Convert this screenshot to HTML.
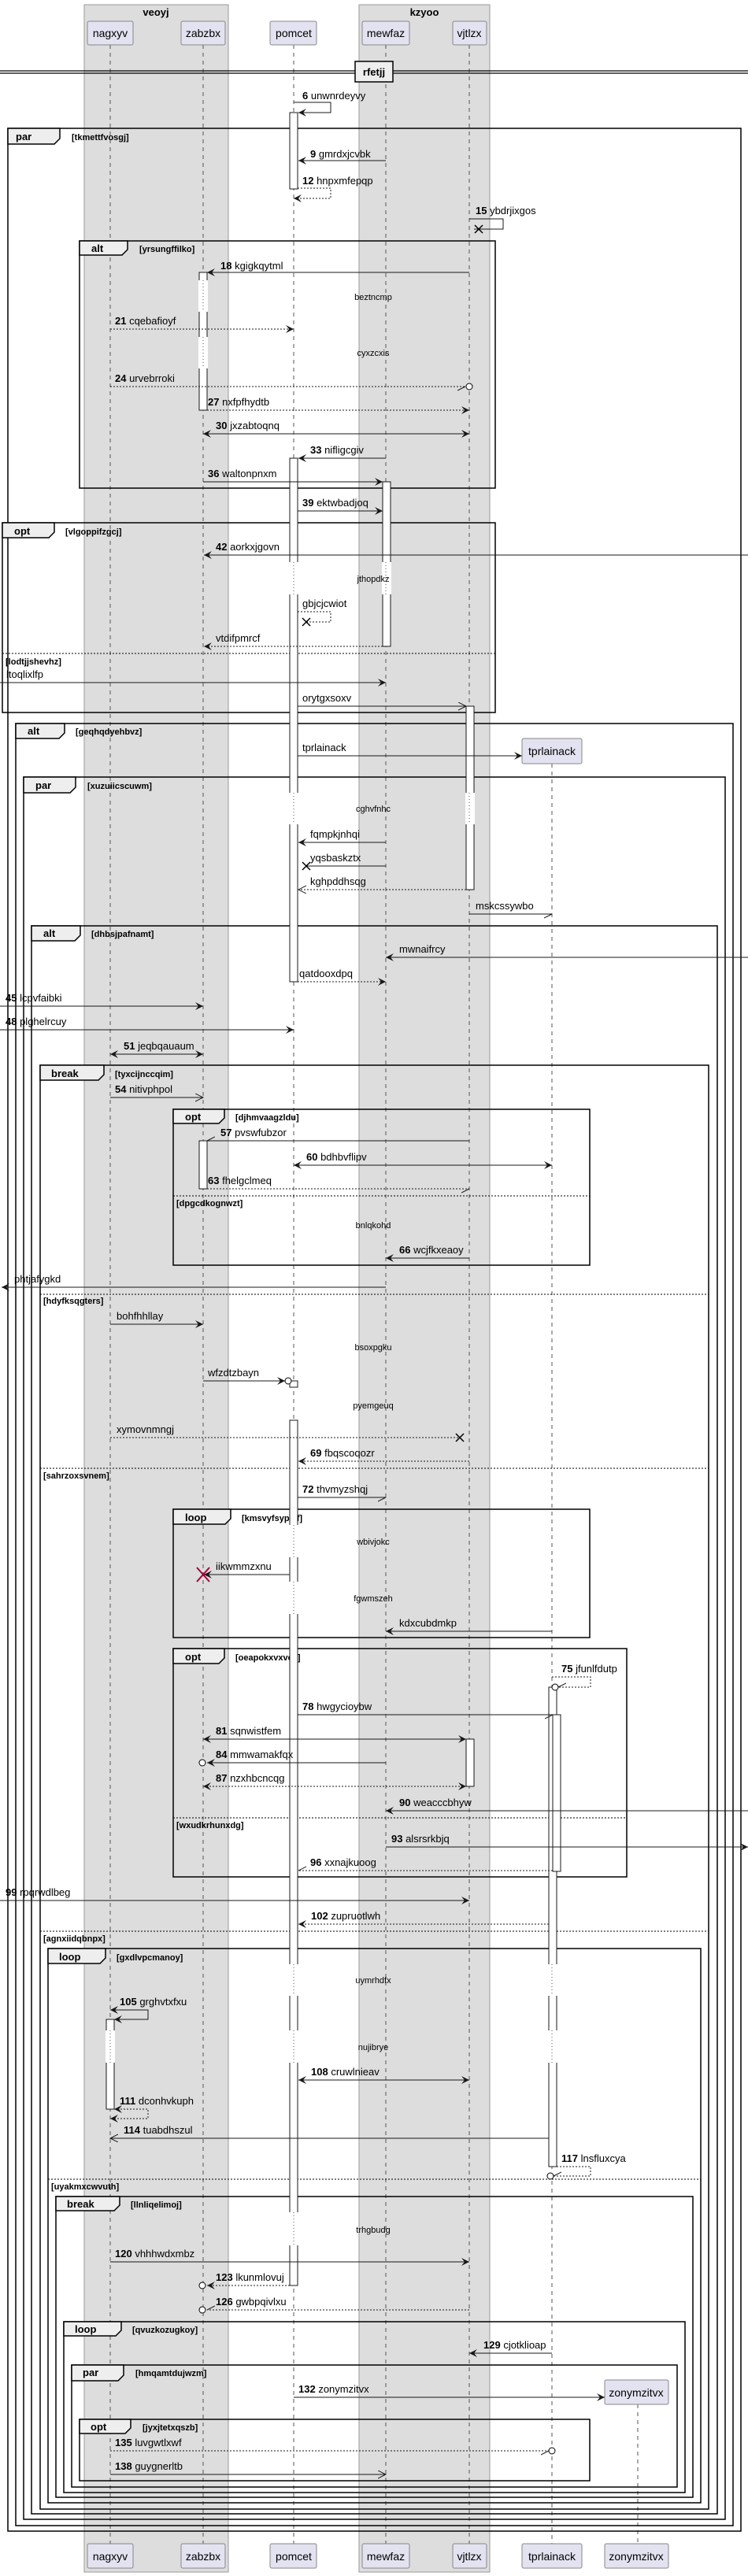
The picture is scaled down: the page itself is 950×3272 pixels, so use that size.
<!DOCTYPE html>
<html><head><meta charset="utf-8"><style>
html,body{margin:0;padding:0;background:#fff;}
svg{display:block;font-family:"Liberation Sans",sans-serif;}
.m{font-size:13px;fill:#000;}
.d{font-size:11px;fill:#000;text-anchor:middle;}
.c{font-size:11px;font-weight:bold;fill:#000;}
.t{font-size:13px;font-weight:bold;fill:#000;}
.p{font-size:14px;fill:#000;text-anchor:middle;}
.ln{stroke:#181818;stroke-width:1;fill:none;}
.ds{stroke:#181818;stroke-width:1;fill:none;stroke-dasharray:2,2;}
.fr{stroke:#000;stroke-width:1.5;fill:none;}
.tab{stroke:#000;stroke-width:1.5;fill:#eee;}
.el{stroke:#000;stroke-width:1;stroke-dasharray:2,2;}
.act{fill:#fff;stroke:#181818;stroke-width:1;}
.ll{stroke:#555;stroke-width:1;stroke-dasharray:5,5;}
.gap{fill:#fff;}
.gl{stroke:#555;stroke-width:1;stroke-dasharray:1,3;}
</style></head><body>
<svg width="950" height="3272" viewBox="0 0 950 3272" xmlns="http://www.w3.org/2000/svg">
<defs>
<marker id="f" markerUnits="userSpaceOnUse" markerWidth="12" markerHeight="10" refX="10" refY="5" orient="auto-start-reverse"><path d="M0,0 L10,5 L0,10 L4,5 Z" fill="#181818"/></marker>
<marker id="o" markerUnits="userSpaceOnUse" markerWidth="12" markerHeight="12" refX="10" refY="5" orient="auto-start-reverse"><path d="M0,0 L10,5 L0,10" fill="none" stroke="#181818"/></marker>
<marker id="h" markerUnits="userSpaceOnUse" markerWidth="12" markerHeight="12" refX="10" refY="5" orient="auto-start-reverse"><path d="M0,10 L10,5" fill="none" stroke="#181818"/></marker>
</defs>

<rect x="107" y="6" width="183" height="3261" fill="#ddd" stroke="#999"/>
<rect x="456" y="6" width="166" height="3261" fill="#ddd" stroke="#999"/>
<text x="198" y="20" class="t" text-anchor="middle">veoyj</text>
<text x="539" y="20" class="t" text-anchor="middle">kzyoo</text>

<line class="ll" x1="140" y1="57" x2="140" y2="3231"/>
<line class="ll" x1="258" y1="57" x2="258" y2="3231"/>
<line class="ll" x1="373" y1="57" x2="373" y2="3231"/>
<line class="ll" x1="490" y1="57" x2="490" y2="3231"/>
<line class="ll" x1="596" y1="57" x2="596" y2="3231"/>
<line class="ll" x1="701" y1="970" x2="701" y2="3231"/>
<line class="ll" x1="810" y1="3054" x2="810" y2="3231"/>

<g fill="#e2e2f0" stroke="#888">
<rect x="111" y="27" width="58" height="30" rx="2"/>
<rect x="230" y="27" width="56" height="30" rx="2"/>
<rect x="343" y="27" width="59" height="30" rx="2"/>
<rect x="460" y="27" width="60" height="30" rx="2"/>
<rect x="575" y="27" width="43" height="30" rx="2"/>
<rect x="663" y="938" width="76" height="32" rx="2"/>
<rect x="768" y="3023" width="81" height="31" rx="2"/>
<rect x="111" y="3231" width="58" height="31" rx="2"/>
<rect x="230" y="3231" width="56" height="31" rx="2"/>
<rect x="343" y="3231" width="59" height="31" rx="2"/>
<rect x="460" y="3231" width="60" height="31" rx="2"/>
<rect x="575" y="3231" width="43" height="31" rx="2"/>
<rect x="663" y="3231" width="76" height="31" rx="2"/>
<rect x="768" y="3231" width="81" height="31" rx="2"/>
</g>
<text class="p" x="140" y="47">nagxyv</text>
<text class="p" x="258" y="47">zabzbx</text>
<text class="p" x="373" y="47">pomcet</text>
<text class="p" x="490" y="47">mewfaz</text>
<text class="p" x="596" y="47">vjtlzx</text>
<text class="p" x="701" y="959">tprlainack</text>
<text class="p" x="808" y="3044">zonymzitvx</text>
<text class="p" x="140" y="3252">nagxyv</text>
<text class="p" x="258" y="3252">zabzbx</text>
<text class="p" x="373" y="3252">pomcet</text>
<text class="p" x="490" y="3252">mewfaz</text>
<text class="p" x="596" y="3252">vjtlzx</text>
<text class="p" x="701" y="3252">tprlainack</text>
<text class="p" x="808" y="3252">zonymzitvx</text>

<line x1="0" y1="90" x2="950" y2="90" stroke="#000" stroke-width="1.2"/>
<line x1="0" y1="93" x2="950" y2="93" stroke="#000" stroke-width="1.2"/>
<rect x="451" y="78" width="48" height="26" fill="#eee" stroke="#000" stroke-width="1.5"/>
<text class="t" x="475" y="96" text-anchor="middle">rfetjj</text>

<g>
<rect class="fr" x="10" y="163" width="931" height="3052"/>
<path class="tab" d="M10,163 L76,163 L76,176 L69,183 L10,183 Z"/><text class="t" x="20" y="178">par</text><text class="c" x="91" y="178">[tkmettfvosgj]</text>
<rect class="fr" x="101" y="306" width="528" height="314"/>
<path class="tab" d="M101,306 L162,306 L162,317 L155,324 L101,324 Z"/><text class="t" x="116" y="320">alt</text><text class="c" x="177" y="320">[yrsungffilko]</text>
<rect class="fr" x="3" y="664" width="626" height="241"/>
<path class="tab" d="M3,664 L69,664 L69,676 L62,683 L3,683 Z"/><text class="t" x="18" y="679">opt</text><text class="c" x="83" y="679">[vlgoppifzgcj]</text>
<line class="el" x1="3" y1="830" x2="629" y2="830"/><text class="c" x="7" y="844">[lodtjjshevhz]</text>
<rect class="fr" x="20" y="919" width="911" height="2289"/>
<path class="tab" d="M20,919 L82,919 L82,931 L75,938 L20,938 Z"/><text class="t" x="35" y="933">alt</text><text class="c" x="96" y="933">[geqhqdyehbvz]</text>
<rect class="fr" x="30" y="987" width="891" height="2213"/>
<path class="tab" d="M30,987 L96,987 L96,1000 L89,1007 L30,1007 Z"/><text class="t" x="45" y="1002">par</text><text class="c" x="111" y="1002">[xuzuiicscuwm]</text>
<rect class="fr" x="40" y="1176" width="871" height="2017"/>
<path class="tab" d="M40,1176 L102,1176 L102,1188 L95,1195 L40,1195 Z"/><text class="t" x="55" y="1190">alt</text><text class="c" x="116" y="1190">[dhbsjpafnamt]</text>
<rect class="fr" x="51" y="1353" width="849" height="1834"/>
<path class="tab" d="M51,1353 L132,1353 L132,1365 L125,1372 L51,1372 Z"/><text class="t" x="65" y="1368">break</text><text class="c" x="146" y="1368">[tyxcijnccqim]</text>
<line class="el" x1="51" y1="1644" x2="900" y2="1644"/><text class="c" x="55" y="1656">[hdyfksqgters]</text>
<line class="el" x1="51" y1="1865" x2="900" y2="1865"/><text class="c" x="55" y="1878">[sahrzoxsvnem]</text>
<line class="el" x1="51" y1="2453" x2="900" y2="2453"/><text class="c" x="55" y="2466">[agnxiidqbnpx]</text>
<rect class="fr" x="220" y="1409" width="529" height="198"/>
<path class="tab" d="M220,1409 L285,1409 L285,1420 L278,1427 L220,1427 Z"/><text class="t" x="235" y="1423">opt</text><text class="c" x="299" y="1423">[djhmvaagzldu]</text>
<line class="el" x1="220" y1="1519" x2="749" y2="1519"/><text class="c" x="224" y="1532">[dpgcdkognwzt]</text>
<rect class="fr" x="220" y="1917" width="529" height="163"/>
<path class="tab" d="M220,1917 L293,1917 L293,1929 L286,1936 L220,1936 Z"/><text class="t" x="235" y="1932">loop</text><text class="c" x="307" y="1932">[kmsvyfsypzff]</text>
<rect class="fr" x="220" y="2094" width="576" height="290"/>
<path class="tab" d="M220,2094 L285,2094 L285,2106 L278,2113 L220,2113 Z"/><text class="t" x="235" y="2109">opt</text><text class="c" x="299" y="2109">[oeapokxvxves]</text>
<line class="el" x1="220" y1="2309" x2="796" y2="2309"/><text class="c" x="224" y="2322">[wxudkrhunxdg]</text>
<rect class="fr" x="61" y="2475" width="829" height="704"/>
<path class="tab" d="M61,2475 L134,2475 L134,2487 L127,2494 L61,2494 Z"/><text class="t" x="75" y="2490">loop</text><text class="c" x="148" y="2490">[gxdlvpcmanoy]</text>
<line class="el" x1="61" y1="2768" x2="890" y2="2768"/><text class="c" x="65" y="2781">[uyakmxcwvuth]</text>
<rect class="fr" x="71" y="2790" width="809" height="382"/>
<path class="tab" d="M71,2790 L152,2790 L152,2801 L145,2808 L71,2808 Z"/><text class="t" x="85" y="2804">break</text><text class="c" x="166" y="2804">[llnliqelimoj]</text>
<rect class="fr" x="81" y="2949" width="789" height="217"/>
<path class="tab" d="M81,2949 L154,2949 L154,2960 L147,2967 L81,2967 Z"/><text class="t" x="95" y="2963">loop</text><text class="c" x="168" y="2963">[qvuzkozugkoy]</text>
<rect class="fr" x="91" y="3004" width="769" height="155"/>
<path class="tab" d="M91,3004 L157,3004 L157,3017 L150,3024 L91,3024 Z"/><text class="t" x="105" y="3018">par</text><text class="c" x="172" y="3018">[hmqamtdujwzm]</text>
<rect class="fr" x="101" y="3073" width="648" height="78"/>
<path class="tab" d="M101,3073 L166,3073 L166,3084 L159,3091 L101,3091 Z"/><text class="t" x="115" y="3087">opt</text><text class="c" x="181" y="3087">[jyxjtetxqszb]</text>
</g>

<rect class="act" x="368" y="143" width="10" height="97"/>
<rect class="act" x="368" y="582" width="10" height="665"/>
<rect class="act" x="368" y="1754" width="10" height="8"/>
<rect class="act" x="368" y="1804" width="10" height="1099"/>
<rect class="act" x="253" y="346" width="10" height="175"/>
<rect class="act" x="253" y="1449" width="10" height="61"/>
<rect class="act" x="486" y="612" width="10" height="209"/>
<rect class="act" x="592" y="897" width="10" height="233"/>
<rect class="act" x="592" y="2209" width="10" height="60"/>
<rect class="act" x="697" y="2143" width="10" height="609"/>
<rect class="act" x="702" y="2178" width="10" height="199"/>
<rect class="act" x="135" y="2565" width="10" height="114"/>

<!-- activation gaps at delays -->
<g>
<rect class="gap" x="252" y="356" width="12" height="40"/><line class="gl" x1="258" y1="356" x2="258" y2="396"/>
<rect class="gap" x="252" y="428" width="12" height="40"/><line class="gl" x1="258" y1="428" x2="258" y2="468"/>
<rect class="gap" x="367" y="714" width="12" height="41"/><line class="gl" x1="373" y1="714" x2="373" y2="755"/>
<rect class="gap" x="485" y="714" width="12" height="41"/><line class="gl" x1="490" y1="714" x2="490" y2="755"/>
<rect class="gap" x="367" y="1007" width="12" height="40"/><line class="gl" x1="373" y1="1007" x2="373" y2="1047"/>
<rect class="gap" x="591" y="1007" width="12" height="40"/><line class="gl" x1="596" y1="1007" x2="596" y2="1047"/>
<rect class="gap" x="367" y="1937" width="12" height="41"/><line class="gl" x1="373" y1="1937" x2="373" y2="1978"/>
<rect class="gap" x="367" y="2009" width="12" height="41"/><line class="gl" x1="373" y1="2009" x2="373" y2="2050"/>
<rect class="gap" x="367" y="2495" width="12" height="40"/><line class="gl" x1="373" y1="2495" x2="373" y2="2535"/>
<rect class="gap" x="696" y="2495" width="12" height="40"/><line class="gl" x1="701" y1="2495" x2="701" y2="2535"/>
<rect class="gap" x="367" y="2579" width="12" height="41"/><line class="gl" x1="373" y1="2579" x2="373" y2="2620"/>
<rect class="gap" x="696" y="2579" width="12" height="41"/><line class="gl" x1="701" y1="2579" x2="701" y2="2620"/>
<rect class="gap" x="134" y="2579" width="12" height="41"/><line class="gl" x1="140" y1="2579" x2="140" y2="2620"/>
<rect class="gap" x="367" y="2810" width="12" height="42"/><line class="gl" x1="373" y1="2810" x2="373" y2="2852"/>
</g>

<text class="d" x="474" y="381">beztncmp</text>
<text class="d" x="474" y="452">cyxzcxis</text>
<text class="d" x="474" y="739">jthopdkz</text>
<text class="d" x="474" y="1031">cghvfnhc</text>
<text class="d" x="474" y="1560">bnlqkohd</text>
<text class="d" x="474" y="1715">bsoxpgku</text>
<text class="d" x="474" y="1789">pyemgeuq</text>
<text class="d" x="474" y="1962">wbivjokc</text>
<text class="d" x="474" y="2034">fgwmszeh</text>
<text class="d" x="474" y="2519">uymrhdfx</text>
<text class="d" x="474" y="2604">nujibrye</text>
<text class="d" x="474" y="2836">trhgbudg</text>

<g>
<polyline class="ln" points="373,130 420,130 420,143 379,143" marker-end="url(#f)"/><text class="m" x="384" y="126"><tspan font-weight="bold">6</tspan> unwnrdeyvy</text>
<line class="ln" x1="490" y1="204" x2="379" y2="204" marker-end="url(#f)"/><text class="m" x="394" y="200"><tspan font-weight="bold">9</tspan> gmrdxjcvbk</text>
<polyline class="ds" points="378,239 420,239 420,252 373,252" marker-end="url(#f)"/><text class="m" x="384" y="234"><tspan font-weight="bold">12</tspan> hnpxmfepqp</text>
<polyline class="ln" points="596,278 639,278 639,291 602,291"/><path d="M603,286 L613,296 M613,286 L603,296" stroke="#000" stroke-width="1.5"/><text class="m" x="604" y="272"><tspan font-weight="bold">15</tspan> ybdrjixgos</text>
<line class="ln" x1="596" y1="346" x2="263" y2="346" marker-end="url(#f)"/><text class="m" x="280" y="342"><tspan font-weight="bold">18</tspan> kgigkqytml</text>
<line class="ds" x1="140" y1="418" x2="373" y2="418" marker-end="url(#f)"/><text class="m" x="146" y="412"><tspan font-weight="bold">21</tspan> cqebafioyf</text>
<line class="ds" x1="140" y1="491" x2="591" y2="491" marker-end="url(#h)"/><circle cx="596" cy="491" r="4" fill="#fff" stroke="#000"/><text class="m" x="146" y="485"><tspan font-weight="bold">24</tspan> urvebrroki</text>
<line class="ds" x1="263" y1="521" x2="596" y2="521" marker-end="url(#f)"/><text class="m" x="264" y="515"><tspan font-weight="bold">27</tspan> nxfpfhydtb</text>
<line class="ln" x1="258" y1="551" x2="596" y2="551" marker-start="url(#f)" marker-end="url(#f)"/><text class="m" x="274" y="545"><tspan font-weight="bold">30</tspan> jxzabtoqnq</text>
<line class="ln" x1="490" y1="582" x2="379" y2="582" marker-end="url(#f)"/><text class="m" x="394" y="576"><tspan font-weight="bold">33</tspan> nifligcgiv</text>
<line class="ln" x1="258" y1="612" x2="486" y2="612" marker-end="url(#f)"/><text class="m" x="264" y="606"><tspan font-weight="bold">36</tspan> waltonpnxm</text>
<line class="ln" x1="378" y1="649" x2="486" y2="649" marker-end="url(#f)"/><text class="m" x="384" y="643"><tspan font-weight="bold">39</tspan> ektwbadjoq</text>
<line class="ln" x1="950" y1="705" x2="259" y2="705" marker-end="url(#f)"/><text class="m" x="274" y="699"><tspan font-weight="bold">42</tspan> aorkxjgovn</text>
<polyline class="ds" points="378,777 420,777 420,790 389,790"/><path d="M384,785 L394,795 M394,785 L384,795" stroke="#000" stroke-width="1.5"/><text class="m" x="384" y="771">gbjcjcwiot</text>
<line class="ds" x1="486" y1="821" x2="259" y2="821" marker-end="url(#f)"/><text class="m" x="274" y="815">vtdifpmrcf</text>
<line class="ln" x1="0" y1="867" x2="490" y2="867" marker-end="url(#f)"/><text class="m" x="8" y="861">ltoqlixlfp</text>
<line class="ln" x1="378" y1="897" x2="592" y2="897" marker-end="url(#o)"/><text class="m" x="384" y="891">orytgxsoxv</text>
<line class="ln" x1="378" y1="960" x2="663" y2="960" marker-end="url(#f)"/><text class="m" x="384" y="954">tprlainack</text>
<line class="ln" x1="490" y1="1070" x2="379" y2="1070" marker-end="url(#f)"/><text class="m" x="394" y="1064">fqmpkjnhqi</text>
<line class="ln" x1="490" y1="1100" x2="389" y2="1100"/><path d="M384,1095 L394,1105 M394,1095 L384,1105" stroke="#000" stroke-width="1.5"/><text class="m" x="394" y="1094">yqsbaskztx</text>
<line class="ds" x1="592" y1="1130" x2="379" y2="1130" marker-end="url(#o)"/><text class="m" x="394" y="1124">kghpddhsqg</text>
<line class="ln" x1="596" y1="1161" x2="701" y2="1161" marker-end="url(#h)"/><text class="m" x="604" y="1155">mskcssywbo</text>
<line class="ln" x1="950" y1="1216" x2="490" y2="1216" marker-end="url(#f)"/><text class="m" x="507" y="1210">mwnaifrcy</text>
<line class="ds" x1="378" y1="1247" x2="490" y2="1247" marker-end="url(#f)"/><text class="m" x="380" y="1241">qatdooxdpq</text>
<line class="ln" x1="0" y1="1278" x2="258" y2="1278" marker-end="url(#f)"/><text class="m" x="7" y="1272"><tspan font-weight="bold">45</tspan> lcpvfaibki</text>
<line class="ln" x1="0" y1="1308" x2="373" y2="1308" marker-end="url(#f)"/><text class="m" x="7" y="1302"><tspan font-weight="bold">48</tspan> plghelrcuy</text>
<line class="ln" x1="140" y1="1339" x2="258" y2="1339" marker-start="url(#f)" marker-end="url(#f)"/><text class="m" x="157" y="1333"><tspan font-weight="bold">51</tspan> jeqbqauaum</text>
<line class="ln" x1="140" y1="1394" x2="258" y2="1394" marker-end="url(#o)"/><text class="m" x="146" y="1388"><tspan font-weight="bold">54</tspan> nitivphpol</text>
<line class="ln" x1="596" y1="1449" x2="263" y2="1449" marker-end="url(#h)"/><text class="m" x="280" y="1443"><tspan font-weight="bold">57</tspan> pvswfubzor</text>
<line class="ln" x1="373" y1="1480" x2="701" y2="1480" marker-start="url(#f)" marker-end="url(#f)"/><text class="m" x="389" y="1474"><tspan font-weight="bold">60</tspan> bdhbvflipv</text>
<line class="ds" x1="263" y1="1510" x2="596" y2="1510" marker-end="url(#h)"/><text class="m" x="264" y="1504"><tspan font-weight="bold">63</tspan> fhelgclmeq</text>
<line class="ln" x1="596" y1="1598" x2="490" y2="1598" marker-end="url(#f)"/><text class="m" x="507" y="1592"><tspan font-weight="bold">66</tspan> wcjfkxeaoy</text>
<line class="ln" x1="490" y1="1635" x2="2" y2="1635" marker-end="url(#f)"/><text class="m" x="18" y="1629">phtjafygkd</text>
<line class="ln" x1="140" y1="1682" x2="258" y2="1682" marker-end="url(#f)"/><text class="m" x="148" y="1676">bohfhhllay</text>
<line class="ln" x1="258" y1="1754" x2="362" y2="1754" marker-end="url(#f)"/><circle cx="366" cy="1754" r="4" fill="#fff" stroke="#000"/><text class="m" x="264" y="1748">wfzdtzbayn</text>
<line class="ds" x1="140" y1="1826" x2="584" y2="1826"/><path d="M579,1821 L589,1831 M589,1821 L579,1831" stroke="#000" stroke-width="1.5"/><text class="m" x="148" y="1820">xymovnmngj</text>
<line class="ds" x1="596" y1="1856" x2="379" y2="1856" marker-end="url(#f)"/><text class="m" x="394" y="1850"><tspan font-weight="bold">69</tspan> fbqscoqozr</text>
<line class="ln" x1="378" y1="1902" x2="490" y2="1902" marker-end="url(#h)"/><text class="m" x="384" y="1896"><tspan font-weight="bold">72</tspan> thvmyzshqj</text>
<line class="ln" x1="368" y1="2000" x2="259" y2="2000" marker-end="url(#f)"/><path d="M250,1991 L266,2009 M266,1991 L250,2009" stroke="#a80036" stroke-width="2"/><text class="m" x="274" y="1994">iikwmmzxnu</text>
<line class="ln" x1="701" y1="2072" x2="490" y2="2072" marker-end="url(#f)"/><text class="m" x="507" y="2066">kdxcubdmkp</text>
<polyline class="ds" points="701,2130 750,2130 750,2143 709,2143" marker-end="url(#h)"/><circle cx="705" cy="2143" r="4" fill="#fff" stroke="#000"/><text class="m" x="713" y="2124"><tspan font-weight="bold">75</tspan> jfunlfdutp</text>
<line class="ln" x1="378" y1="2178" x2="702" y2="2178" marker-end="url(#h)"/><text class="m" x="384" y="2172"><tspan font-weight="bold">78</tspan> hwgycioybw</text>
<line class="ln" x1="258" y1="2209" x2="592" y2="2209" marker-start="url(#f)" marker-end="url(#f)"/><text class="m" x="274" y="2203"><tspan font-weight="bold">81</tspan> sqnwistfem</text>
<line class="ln" x1="490" y1="2239" x2="263" y2="2239" marker-end="url(#f)"/><circle cx="257" cy="2239" r="4" fill="#fff" stroke="#000"/><text class="m" x="274" y="2233"><tspan font-weight="bold">84</tspan> mmwamakfqx</text>
<line class="ds" x1="258" y1="2269" x2="592" y2="2269" marker-start="url(#f)" marker-end="url(#f)"/><text class="m" x="274" y="2263"><tspan font-weight="bold">87</tspan> nzxhbcncqg</text>
<line class="ln" x1="950" y1="2300" x2="490" y2="2300" marker-end="url(#f)"/><text class="m" x="507" y="2294"><tspan font-weight="bold">90</tspan> weacccbhyw</text>
<line class="ln" x1="490" y1="2346" x2="950" y2="2346" marker-end="url(#f)"/><text class="m" x="497" y="2340"><tspan font-weight="bold">93</tspan> alsrsrkbjq</text>
<line class="ds" x1="702" y1="2376" x2="379" y2="2376" marker-end="url(#h)"/><text class="m" x="394" y="2370"><tspan font-weight="bold">96</tspan> xxnajkuoog</text>
<line class="ln" x1="0" y1="2414" x2="596" y2="2414" marker-end="url(#f)"/><text class="m" x="7" y="2408"><tspan font-weight="bold">99</tspan> rpqrwdlbeg</text>
<line class="ds" x1="697" y1="2444" x2="379" y2="2444" marker-end="url(#f)"/><text class="m" x="395" y="2438"><tspan font-weight="bold">102</tspan> zupruotlwh</text>
<polyline class="ln" points="140,2553 188,2553 188,2565 145,2565" marker-start="url(#f)" marker-end="url(#f)"/><text class="m" x="152" y="2547"><tspan font-weight="bold">105</tspan> grghvtxfxu</text>
<line class="ln" x1="379" y1="2642" x2="596" y2="2642" marker-start="url(#f)" marker-end="url(#f)"/><text class="m" x="395" y="2636"><tspan font-weight="bold">108</tspan> cruwlnieav</text>
<polyline class="ds" points="145,2679 188,2679 188,2691 140,2691" marker-start="url(#f)" marker-end="url(#f)"/><text class="m" x="152" y="2673"><tspan font-weight="bold">111</tspan> dconhvkuph</text>
<line class="ln" x1="697" y1="2716" x2="140" y2="2716" marker-end="url(#o)"/><text class="m" x="157" y="2710"><tspan font-weight="bold">114</tspan> tuabdhszul</text>
<polyline class="ds" points="707,2752 750,2752 750,2764 703,2764" marker-end="url(#h)"/><circle cx="699" cy="2764" r="4" fill="#fff" stroke="#000"/><text class="m" x="713" y="2746"><tspan font-weight="bold">117</tspan> lnsfluxcya</text>
<line class="ln" x1="140" y1="2873" x2="596" y2="2873" marker-end="url(#f)"/><text class="m" x="146" y="2867"><tspan font-weight="bold">120</tspan> vhhhwdxmbz</text>
<line class="ds" x1="368" y1="2903" x2="263" y2="2903" marker-end="url(#f)"/><circle cx="257" cy="2903" r="4" fill="#fff" stroke="#000"/><text class="m" x="274" y="2897"><tspan font-weight="bold">123</tspan> lkunmlovuj</text>
<line class="ds" x1="596" y1="2934" x2="263" y2="2934" marker-end="url(#h)"/><circle cx="257" cy="2934" r="4" fill="#fff" stroke="#000"/><text class="m" x="274" y="2928"><tspan font-weight="bold">126</tspan> gwbpqivlxu</text>
<line class="ln" x1="701" y1="2989" x2="596" y2="2989" marker-end="url(#f)"/><text class="m" x="614" y="2983"><tspan font-weight="bold">129</tspan> cjotklioap</text>
<line class="ln" x1="373" y1="3045" x2="768" y2="3045" marker-end="url(#f)"/><text class="m" x="379" y="3039"><tspan font-weight="bold">132</tspan> zonymzitvx</text>
<line class="ds" x1="140" y1="3113" x2="697" y2="3113" marker-end="url(#h)"/><circle cx="701" cy="3113" r="4" fill="#fff" stroke="#000"/><text class="m" x="146" y="3107"><tspan font-weight="bold">135</tspan> luvgwtlxwf</text>
<line class="ln" x1="140" y1="3143" x2="490" y2="3143" marker-end="url(#o)"/><text class="m" x="146" y="3137"><tspan font-weight="bold">138</tspan> guygnerltb</text>
</g>
</svg>
</body></html>
